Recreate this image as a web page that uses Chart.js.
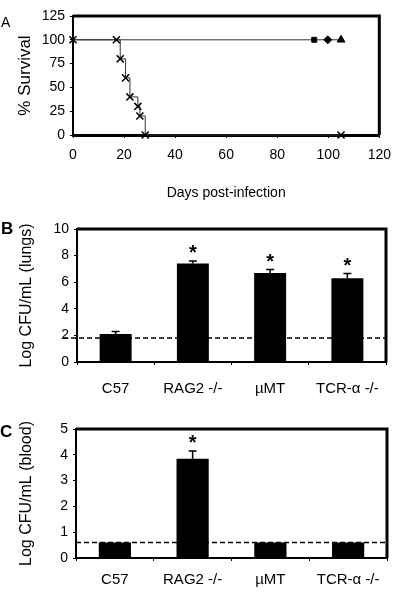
<!DOCTYPE html>
<html>
<head>
<meta charset="utf-8">
<script src="https://cdn.jsdelivr.net/npm/chart.js@4.4.0/dist/chart.umd.min.js"></script>
<style>
html, body { margin: 0; padding: 0; background: #fff; }
body { width: 400px; height: 592px; position: relative; overflow: hidden; }
.panel { position: absolute; left: 0; width: 400px; }
.tag { position: absolute; color: #000; line-height: 1; }
</style>
</head>
<body>
<div class="panel" style="top:0;height:206px"><canvas id="survival"></canvas></div>
<div class="panel" style="top:198px;height:200px"><canvas id="lungs"></canvas></div>
<div class="panel" style="top:398px;height:194px"><canvas id="blood"></canvas></div>
<div class="tag" style="left:1px;top:14px;font:14px 'Liberation Sans',Arial,sans-serif">A</div>
<div class="tag" style="left:1px;top:219px;font:bold 17px 'Liberation Sans',Arial,sans-serif">B</div>
<div class="tag" style="left:0px;top:422px;font:bold 17px 'Liberation Sans',Arial,sans-serif">C</div>
<script>
const plain = "'Liberation Sans', Arial, sans-serif";

// panel A - survival
const koDays = [0, 17, 18.5, 20.6, 22.3, 25.4, 26.2, 28.3, 105];
const koSurvival = [100, 100, 80, 60, 40, 30, 20, 0, 0];
const wtDays = [0, 94.5, 99.8, 105];
const wtSurvival = [100, 100, 100, 100];
const wtMarkers = ['circle', 'rect', 'rectRot', 'triangle'];
const dayTicks = [0, 20, 40, 60, 80, 100, 120];
const survivalTicks = [0, 25, 50, 75, 100, 125];

// panels B and C - bacterial load
const strains = ['C57', 'RAG2 -/-', 'µMT', 'TCR-α -/-'];
const lungMeans = [2.1, 7.4, 6.7, 6.3];
const lungErr = [0.2, 0.2, 0.25, 0.35];
const lungMarks = ['', '*', '*', '*'];
const lungLimit = 1.8;
const lungTicks = [0, 2, 4, 6, 8, 10];
const bloodMeans = [0.6, 3.85, 0.6, 0.6];
const bloodErr = [0, 0.3, 0, 0];
const bloodMarks = ['', '*', '', ''];
const bloodLimit = 0.6;
const bloodTicks = [0, 1, 2, 3, 4, 5];

const frame = {
    id: 'frame',
    afterDraw(chart) {
        const {ctx, chartArea: a} = chart;
        ctx.save();
        ctx.strokeStyle = '#000';
        ctx.lineWidth = 3;
        ctx.beginPath();
        ctx.moveTo(a.left, a.top);
        ctx.lineTo(a.right, a.top);
        ctx.lineTo(a.right, a.bottom);
        ctx.stroke();
        ctx.restore();
    }
};

const extras = {
    id: 'extras',
    afterDatasetsDraw(chart, args, o) {
        const {ctx, chartArea: a, scales: {y}} = chart;
        const bars = chart.getDatasetMeta(0).data;
        ctx.save();
        ctx.strokeStyle = '#000';
        ctx.fillStyle = '#000';
        // detection limit
        const ly = y.getPixelForValue(o.limit);
        ctx.setLineDash([5, 3]);
        ctx.lineWidth = 1.5;
        ctx.beginPath();
        ctx.moveTo(a.left - o.lead, ly);
        ctx.lineTo(a.right, ly);
        ctx.stroke();
        ctx.setLineDash([]);
        o.means.forEach((m, i) => {
            if (!o.errors[i]) return;
            const x = bars[i].x;
            const top = y.getPixelForValue(m + o.errors[i]);
            ctx.lineWidth = 1.5;
            ctx.beginPath();
            ctx.moveTo(x, bars[i].y);
            ctx.lineTo(x, top);
            ctx.moveTo(x - 4, top);
            ctx.lineTo(x + 4, top);
            ctx.stroke();
            if (o.marks[i]) {
                ctx.font = 'bold 20px ' + plain;
                ctx.textAlign = 'center';
                ctx.textBaseline = 'alphabetic';
                ctx.fillText(o.marks[i], x, top - 2);
            }
        });
        ctx.restore();
    }
};

function axisBase(ticks, pad) {
    return {
        afterBuildTicks: s => { s.ticks = ticks.map(v => ({value: v})); },
        grid: {drawOnChartArea: false, tickLength: 3, color: '#000'},
        border: {color: '#000', width: 2},
        ticks: {color: '#000', padding: pad, font: {family: plain, size: 14}, maxRotation: 0}
    };
}

new Chart(document.getElementById('survival'), {
    type: 'line',
    data: {
        datasets: [
            {
                data: koDays.map((d, i) => ({x: d, y: koSurvival[i]})),
                stepped: true,
                borderColor: '#333',
                borderWidth: 1,
                pointStyle: 'crossRot',
                pointRadius: 5,
                pointBorderColor: '#000',
                pointBorderWidth: 1.5,
                clip: false
            },
            {
                data: wtDays.map((d, i) => ({x: d, y: wtSurvival[i]})),
                borderColor: '#333',
                borderWidth: 1,
                pointStyle: wtMarkers,
                pointRadius: [0, 3.5, 4, 4.5],
                pointBackgroundColor: '#000',
                pointBorderColor: '#000',
                clip: false
            }
        ]
    },
    options: {
        responsive: true,
        maintainAspectRatio: false,
        animation: false,
        layout: {padding: {top: 16, right: 14, left: 0, bottom: 0}},
        plugins: {legend: {display: false}, tooltip: {enabled: false}},
        scales: {
            x: Object.assign(axisBase(dayTicks, 9), {
                type: 'linear', min: 0, max: 120,
                afterFit: s => { s.height = 71; },
                border: {color: '#000', width: 3},
                title: {display: true, text: 'Days post-infection', color: '#000',
                        font: {family: plain, size: 14}, padding: {top: 0, bottom: 4}}
            }),
            y: Object.assign(axisBase(survivalTicks, 5), {
                min: 0, max: 125,
                afterFit: s => { s.width = 73; },
                title: {display: true, text: '% Survival', color: '#000',
                        font: {family: plain, size: 17}, padding: {top: 15, bottom: 0}}
            })
        }
    },
    plugins: [frame]
});

function barChart(id, means, errors, marks, limit, ticks, max, title, pad, lead) {
    return new Chart(document.getElementById(id), {
        type: 'bar',
        data: {
            labels: strains,
            datasets: [{
                data: means,
                backgroundColor: '#000',
                borderWidth: 0,
                categoryPercentage: 1,
                barPercentage: 0.414
            }]
        },
        options: {
            responsive: true,
            maintainAspectRatio: false,
            animation: false,
            layout: {padding: {top: pad.top, right: pad.right, left: 0, bottom: 0}},
            plugins: {
                legend: {display: false},
                tooltip: {enabled: false},
                extras: {means: means, errors: errors, marks: marks, limit: limit, lead: lead}
            },
            scales: {
                x: {
                    afterFit: s => { s.height = pad.xHeight; },
                    grid: {drawOnChartArea: false, tickLength: 3, color: '#000'},
                    border: {color: '#000', width: 2},
                    ticks: {color: '#000', padding: pad.xPad, font: {family: plain, size: 15}, maxRotation: 0}
                },
                y: Object.assign(axisBase(ticks, 5), {
                    min: 0, max: max,
                    afterFit: s => { s.width = pad.yWidth; },
                    title: {display: true, text: title, color: '#000',
                            font: {family: plain, size: 16}, padding: {top: 17, bottom: 0}}
                })
            }
        },
        plugins: [frame, extras]
    });
}

barChart('lungs', lungMeans, lungErr, lungMarks, lungLimit, lungTicks, 10, 'Log CFU/mL (lungs)',
    {top: 31, right: 14, xHeight: 36, xPad: 15, yWidth: 77}, 14);
barChart('blood', bloodMeans, bloodErr, bloodMarks, bloodLimit, bloodTicks, 5, 'Log CFU/mL (blood)',
    {top: 31, right: 13, xHeight: 34, xPad: 10, yWidth: 76}, 0);
</script>
</body>
</html>
